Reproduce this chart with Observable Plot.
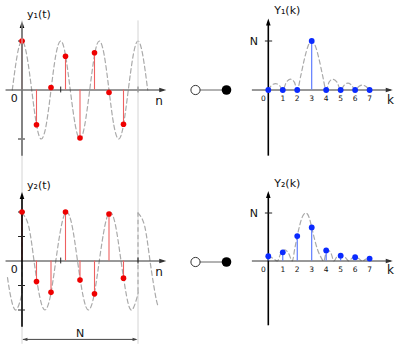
<!DOCTYPE html>
<html><head><meta charset="utf-8">
<script src="https://cdn.jsdelivr.net/npm/d3@7"></script>
<script src="https://cdn.jsdelivr.net/npm/@observablehq/plot@0.6"></script>
<style>
body{margin:0;background:#fff;}
#wrap{position:relative;width:400px;height:351px;overflow:hidden;background:#fff;}
#wrap svg{position:absolute;left:0;top:0;background:transparent !important;overflow:visible;}
</style></head><body><div id="wrap"></div>
<script>
// ---------- data ----------
const nIdx = [0, 1, 2, 3, 4, 5, 6, 7];
const y1Samples = [1.00, -0.71, 0.05, 0.69, -0.98, 0.76, -0.05, -0.70];
const y2Samples = [1.00, -0.42, -0.64, 1.00, -0.39, -0.67, 0.96, -0.35];

// dashed continuous signal y1(t) (key points)
const y1CurveN = [-0.67,-0.33,0,0.33,0.67,1,1.33,1.67,2,2.33,2.67,3,3.33,3.67,4,4.33,4.67,5,5.33,5.67,6,6.33,6.67,7,7.33,7.67,8,8.33,8.67];
const y1CurveV = [0,0.71,1,0.71,0,-0.71,-1,-0.71,0,0.71,1,0.71,0,-0.71,-1,-0.71,0,0.71,1,0.71,0,-0.71,-1,-0.71,0,0.71,1,0.71,0];

// dashed continuous signal y2(t), periodic extension in three pieces
const y2CurveN = [-1,-0.79,-0.42,-0.04,0,
  0,0.46,0.83,1.21,1.58,1.96,2.33,2.71,3.08,3.46,3.83,4.21,4.58,4.96,5.33,5.71,6.08,6.46,6.83,7.21,7.58,7.96,8,
  8,8.46,8.83,9.21,9.4];
const y2CurveV = [-0.34,-0.71,-1,-0.71,-0.64,
  0.98,0.71,0,-0.71,-1,-0.71,0,0.71,1,0.71,0,-0.71,-1,-0.71,0,0.71,1,0.71,0,-0.71,-1,-0.71,-0.64,
  0.98,0.71,0,-0.71,-0.93];
const y2CurveSeg = [0,0,0,0,0,
  1,1,1,1,1,1,1,1,1,1,1,1,1,1,1,1,1,1,1,1,1,1,1,
  2,2,2,2,2];
const y2JumpN = [0, 8];
const y2JumpLow = [-0.64, -0.64];
const y2JumpHigh = [0.98, 0.98];

const kIdx = [0, 1, 2, 3, 4, 5, 6, 7];
const kLabels = ["0", "1", "2", "3", "4", "5", "6", "7"];
const Y1Mag = [0, 0, 0, 1, 0, 0, 0, 0];
const Y2Mag = [0.10, 0.18, 0.52, 0.70, 0.22, 0.11, 0.08, 0.05];

const Y1CurveK = [0,0.25,0.5,0.75,1,1.25,1.55,1.8,2,2.25,2.5,2.75,3,3.25,3.5,3.75,4,4.2,4.45,4.75,5,5.25,5.5,5.75,6,6.25,6.5,6.75,7];
const Y1CurveV = [0,0.10,0.13,0.10,0,0.16,0.22,0.16,0,0.30,0.64,0.90,1,0.90,0.64,0.30,0,0.16,0.22,0.16,0,0.10,0.14,0.10,0,0.07,0.10,0.07,0];
const Y2CurveK = [0,0.3,0.62,0.88,1.14,1.4,1.66,1.83,2,2.15,2.3,2.45,2.57,2.7,2.85,3,3.2,3.4,3.6,3.84,3.98,4.15,4.35,4.53,4.75,5,5.3,5.56,5.8,6,6.25,6.5,6.75,7];
const Y2CurveV = [0.10,0.06,0,0.17,0.23,0.16,0,0.26,0.52,0.72,0.88,0.97,1,0.98,0.88,0.70,0.45,0.24,0.10,0,0.16,0.22,0.15,0,0.09,0.12,0.08,0,0.06,0.09,0.05,0,0.04,0.05];

const y1Ticks = [-1, 1];
const y2Ticks = [-1, -0.5, 0.5, 1];
const nTicks = [2.67, 8];
const windowEdges = [0, 8];
const magTicks = [1];
const pairRows = [0, 1];
const titles = {y1: "y\u2081(t)", y2: "y\u2082(t)", Y1: "Y\u2081(k)", Y2: "Y\u2082(k)"};

// ---------- helpers ----------
const FONT = "DejaVu Sans, Verdana, sans-serif";
const zip = (xs, ys) => xs.map((x, i) => ({x, y: ys[i]}));
const arrowRight = {draw(c){ c.moveTo(0,0); c.lineTo(-7,-2.3); c.lineTo(-7,2.3); c.closePath(); }};
const arrowUp = {draw(c){ c.moveTo(0,0); c.lineTo(-2.3,7); c.lineTo(2.3,7); c.closePath(); }};
const arrowR2 = {draw(c){ c.moveTo(0,0); c.lineTo(-5,-1.7); c.lineTo(-5,1.7); c.closePath(); }};
const arrowL2 = {draw(c){ c.moveTo(0,0); c.lineTo(5,-1.7); c.lineTo(5,1.7); c.closePath(); }};
const DASH = {stroke: "#aaa", strokeWidth: 1.2, strokeDasharray: "4.5,3"};
const wrap = document.getElementById("wrap");
const base = (x, y, marks) => Plot.plot({
  width: 400, height: 351, x: {...x, axis: null}, y: {...y, axis: null}, marks
});
const txt = (s, x, y, size, extra = {}) =>
  Plot.text([s], {x, y, text: d => d, fontSize: size, fontFamily: FONT, fill: "#111", ...extra});

function leftPanel(samples, curve, ticks, title, axisPx, extraMarks) {
  return base(
    {domain: [0, 8], range: [21.5, 137.5]},
    {domain: [-1, 1], range: [axisPx + 49, axisPx - 49]},
    [
      ...extraMarks.before,
      Plot.line(curve, {x: "x", y: "y", z: "z", curve: "natural", ...DASH}),
      ...extraMarks.dashExtra,
      Plot.ruleY([0], {x1: -1.1, x2: 9.8, stroke: "#333", strokeWidth: 1}),
      Plot.dot([0], {x: 9.95, y: 0, symbol: arrowRight, fill: "#333", stroke: "none"}),
      Plot.ruleX(zip(nIdx, samples), {x: "x", y1: 0, y2: "y", stroke: "#ee6060", strokeWidth: 1.1}),
      Plot.ruleX([0], {y1: -1.35, y2: 1.3, stroke: "#000", strokeWidth: 1.6}),
      Plot.dot([0], {x: 0, y: 1.41, symbol: arrowUp, fill: "#000", stroke: "none"}),
      Plot.ruleY(ticks, {y: d => d, x1: -0.24, x2: 0.24, stroke: "#222"}),
      Plot.ruleX(nTicks, {x: d => d, y1: -0.06, y2: 0.06, stroke: "#222"}),
      Plot.dot(zip(nIdx, samples), {x: "x", y: "y", r: 2.8, fill: "#ee0000", stroke: "none"}),
      txt(title, 1.17, 1.55, 11),
      txt("0", -0.53, -0.18, 11),
      txt("n", 9.45, -0.22, 12),
      ...extraMarks.after
    ]
  );
}

function rightPanel(mag, curve, title, axisPx, unitPx, stemsAll) {
  const stems = zip(kIdx, mag).filter(d => stemsAll || d.y > 0);
  return base(
    {domain: [0, 7], range: [267.8, 369.1]},
    {domain: [0, 1], range: [axisPx, axisPx - unitPx]},
    [
      Plot.line(curve, {x: "x", y: "y", curve: "monotone-x", ...DASH}),
      Plot.ruleY([0], {x1: -1.1, x2: 8.5, stroke: "#333", strokeWidth: 1}),
      Plot.dot([0], {x: 8.6, y: 0, symbol: arrowRight, fill: "#333", stroke: "none"}),
      Plot.ruleX([0], {y1: -1.35, y2: 1.38, stroke: "#000", strokeWidth: 1.6}),
      Plot.dot([0], {x: 0, y: 1.46, symbol: arrowUp, fill: "#000", stroke: "none"}),
      Plot.ruleY(magTicks, {y: d => d, x1: -0.2, x2: 0.3, stroke: "#222"}),
      Plot.ruleX(stems, {x: "x", y1: 0, y2: "y", stroke: "#5070ff", strokeWidth: 1.1}),
      Plot.dot(zip(kIdx, mag), {x: "x", y: "y", r: 2.9, fill: "#0a2aff", stroke: "none"}),
      Plot.text(kLabels.slice(0, 1), {x: d => +d, y: -0.17, dx: -5, text: d => d, fontSize: 7.5, fontFamily: FONT, fill: "#111"}),
      Plot.text(kLabels.slice(1), {x: d => +d, y: -0.17, text: d => d, fontSize: 7.5, fontFamily: FONT, fill: "#111"}),
      txt("N", -1.0, 1.0, 11),
      txt("k", 8.45, -0.2, 12),
      txt(title, 1.31, 1.62, 11)
    ]
  );
}

// ---------- panels ----------
const y1Curve = y1CurveN.map((x, i) => ({x, y: y1CurveV[i], z: 0}));
const y2Curve = y2CurveN.map((x, i) => ({x, y: y2CurveV[i], z: y2CurveSeg[i]}));
const y2Jumps = y2JumpN.map((x, i) => ({x, lo: y2JumpLow[i], hi: y2JumpHigh[i]}));

wrap.append(leftPanel(y1Samples, y1Curve, y1Ticks, titles.y1, 89.5, {before: [], dashExtra: [], after: []}));

wrap.append(leftPanel(y2Samples, y2Curve, y2Ticks, titles.y2, 260.5, {
  before: [Plot.ruleX(windowEdges, {x: d => d, y1: -1.7, y2: 4.9, stroke: "#d4d4d4", strokeWidth: 1})],
  dashExtra: [Plot.ruleX(y2Jumps, {x: "x", y1: "lo", y2: "hi", ...DASH})],
  after: [
    Plot.ruleY([-1.6], {x1: 0.1, x2: 7.9, stroke: "#444", strokeWidth: 1}),
    Plot.dot([0], {x: 0.03, y: -1.6, symbol: arrowL2, fill: "#444", stroke: "none"}),
    Plot.dot([0], {x: 7.97, y: -1.6, symbol: arrowR2, fill: "#444", stroke: "none"}),
    txt("N", 4.0, -1.47, 11)
  ]
}));

wrap.append(rightPanel(Y1Mag, zip(Y1CurveK, Y1CurveV), titles.Y1, 89.5, 49, false));
wrap.append(rightPanel(Y2Mag, zip(Y2CurveK, Y2CurveV), titles.Y2, 260.5, 48, true));

// middle: transform pair symbols
wrap.append(base(
  {domain: [0, 1], range: [195, 226]},
  {domain: [0, 1], range: [89.5, 261.5]},
  [
    Plot.ruleY(pairRows, {y: d => d, x1: 0, x2: 1, stroke: "#666", strokeWidth: 1}),
    Plot.dot(pairRows, {x: 0, y: d => d, r: 4.6, fill: "#fff", stroke: "#333", strokeWidth: 1}),
    Plot.dot(pairRows, {x: 1, y: d => d, r: 4.8, fill: "#000", stroke: "none"})
  ]
));
</script></body></html>
